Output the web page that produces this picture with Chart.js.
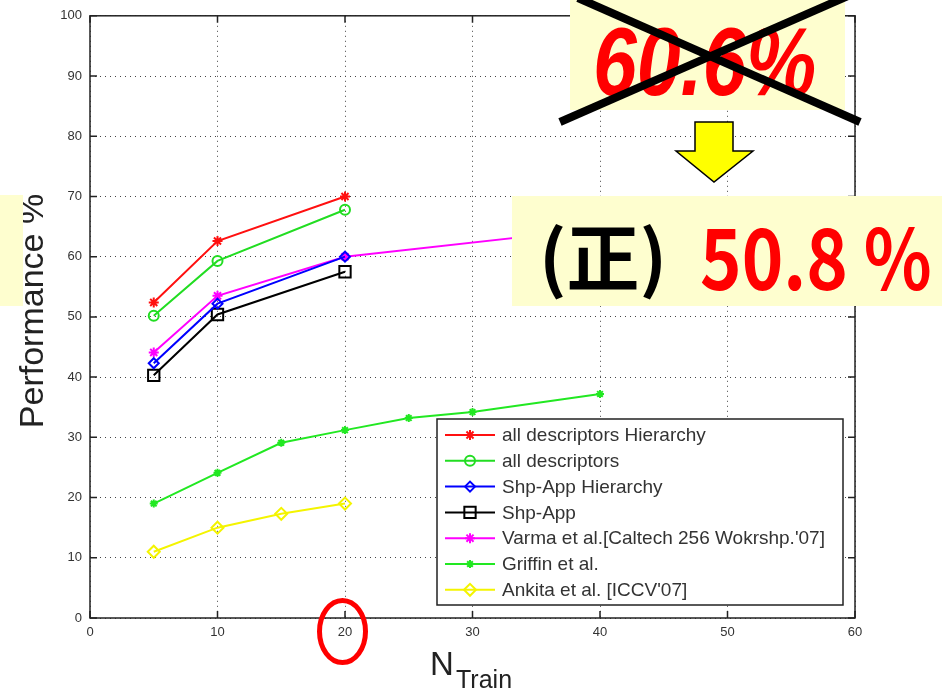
<!DOCTYPE html>
<html>
<head>
<meta charset="utf-8">
<script src="https://cdn.jsdelivr.net/npm/chart.js@4.4.1/dist/chart.umd.min.js"></script>
<style>
  body { margin: 0; background: #fff; }
  #wrap { position: relative; width: 942px; height: 692px; overflow: hidden; }
  #myChart { position: absolute; left: 0; top: 0; }
  .note { position: absolute; background: #fefecf; }
  #yTitle { position: absolute; left: 31px; top: 311px; transform: translate(-50%, -50%) rotate(-90deg);
    font: 34px "Liberation Sans", Arial, sans-serif; color: #222; white-space: nowrap; }
  .xt { position: absolute; font-family: "Liberation Sans", Arial, sans-serif; color: #222; line-height: 1; white-space: nowrap; }
  #oldVal { position: absolute; left: 23px; top: 14px; font: italic bold 96px/96px "Liberation Sans", Arial, sans-serif;
    color: #ff0000; transform: scaleX(0.82); transform-origin: left top; white-space: nowrap; }
  #kanji { position: absolute; left: 27px; top: 21px; font: bold 73px/73px "Noto Sans CJK JP", sans-serif; color: #000; white-space: nowrap; }
  #newVal { position: absolute; left: 188px; top: 16px; font: bold 84px/84px "Noto Sans CJK JP", sans-serif; color: #ff0000;
    transform: scaleX(0.84); transform-origin: left top; white-space: nowrap; }
  svg { position: absolute; left: 0; top: 0; }
</style>
</head>
<body>
<div id="wrap">
  <canvas id="myChart" width="942" height="692"></canvas>
  <div id="yTitle">Performance %</div>
  <div class="xt" style="left:430px; top:647px; font-size:33px;">N</div>
  <div class="xt" style="left:456px; top:667px; font-size:25px;">Train</div>
  <div class="note" style="left:0; top:195px; width:23px; height:111px;"></div>
  <div class="note" style="left:570px; top:0; width:275px; height:110px;"><span id="oldVal">60.6%</span></div>
  <svg width="942" height="692">
    <line x1="560" y1="122" x2="848" y2="-4" stroke="#000" stroke-width="8"/>
    <line x1="578" y1="-2" x2="860" y2="122" stroke="#000" stroke-width="8"/>
    <polygon points="695,122 733,122 733,151 753,151 714,182 676,151 695,151" fill="#ffff00" stroke="#000" stroke-width="1.5"/>
    <ellipse cx="342.5" cy="631.5" rx="23" ry="31" fill="none" stroke="#ff0000" stroke-width="5"/>
  </svg>
  <div class="note" style="left:512px; top:196px; width:430px; height:110px;">
    <span id="kanji">(正)</span><span id="newVal">50.8 %</span>
  </div>
</div>
<script>
// values (N_train -> performance %)
const nTrainShort = [5, 10, 20];
const allDescHier = [52.4, 62.6, 70.0];
const allDesc = [50.2, 59.3, 67.8];
const shpAppHier = [42.3, 52.2, 60.0];
const shpApp = [40.3, 50.4, 57.5];
const varmaX = [5, 10, 20, 40];
const varma = [44.1, 53.5, 60.0, 64.7];
const griffinX = [5, 10, 15, 20, 25, 30, 40];
const griffin = [19.0, 24.1, 29.1, 31.2, 33.2, 34.2, 37.2];
const ankitaX = [5, 10, 15, 20];
const ankita = [11.0, 15.0, 17.3, 19.0];
const xTicks = [0, 10, 20, 30, 40, 50, 60];
const yTicks = [0, 10, 20, 30, 40, 50, 60, 70, 80, 90, 100];

const pts = (xs, ys) => xs.map((x, i) => ({x: x, y: ys[i]}));

const series = (label, xs, ys, color, style, radius, fill) => ({
  label: label,
  data: pts(xs, ys),
  borderColor: color,
  borderWidth: 2,
  pointStyle: style,
  pointRadius: radius,
  pointBorderWidth: 2,
  pointBorderColor: color,
  pointBackgroundColor: fill || 'transparent',
  tension: 0
});

const datasets = [
  series('all descriptors Hierarchy', nTrainShort, allDescHier, '#ff1010', 'star', 5),
  series('all descriptors', nTrainShort, allDesc, '#22dd22', 'circle', 5),
  series('Shp-App Hierarchy', nTrainShort, shpAppHier, '#0000ff', 'rectRot', 5),
  series('Shp-App', nTrainShort, shpApp, '#000000', 'rect', 8),
  series('Varma et al.[Caltech 256 Wokrshp.\'07]', varmaX, varma, '#ff00ff', 'star', 5),
  series('Griffin et al.', griffinX, griffin, '#22e822', 'star', 4),
  series('Ankita et al. [ICCV\'07]', ankitaX, ankita, '#f4f400', 'rectRot', 6)
];

// matlab-like box with inward ticks
const axesBox = {
  id: 'axesBox',
  afterDatasetsDraw(chart) {
    const {ctx, chartArea: a, scales} = chart;
    ctx.save();
    ctx.strokeStyle = '#222';
    ctx.lineWidth = 1.5;
    ctx.strokeRect(a.left, a.top, a.right - a.left, a.bottom - a.top);
    ctx.beginPath();
    xTicks.forEach(v => {
      const x = scales.x.getPixelForValue(v);
      ctx.moveTo(x, a.bottom); ctx.lineTo(x, a.bottom - 7);
      ctx.moveTo(x, a.top); ctx.lineTo(x, a.top + 7);
    });
    yTicks.forEach(v => {
      const y = scales.y.getPixelForValue(v);
      ctx.moveTo(a.left, y); ctx.lineTo(a.left + 7, y);
      ctx.moveTo(a.right, y); ctx.lineTo(a.right - 7, y);
    });
    ctx.stroke();
    ctx.restore();
  }
};

// legend box inside the axes, lower right
const boxLegend = {
  id: 'boxLegend',
  afterDraw(chart) {
    const {ctx, chartArea: a} = chart;
    const left = a.right - 418, top = a.bottom - 199, w = 406, h = 186;
    ctx.save();
    ctx.fillStyle = '#fff';
    ctx.fillRect(left, top, w, h);
    ctx.strokeStyle = '#222';
    ctx.lineWidth = 1.5;
    ctx.strokeRect(left, top, w, h);
    chart.data.datasets.forEach((ds, i) => {
      const y = top + 16 + i * 25.8;
      ctx.strokeStyle = ds.borderColor;
      ctx.lineWidth = 2;
      ctx.beginPath();
      ctx.moveTo(left + 8, y); ctx.lineTo(left + 58, y);
      ctx.stroke();
      ctx.fillStyle = ds.pointBackgroundColor;
      ctx.lineWidth = 2;
      Chart.helpers.drawPoint(ctx, {pointStyle: ds.pointStyle, radius: ds.pointRadius, borderWidth: 2, rotation: 0}, left + 33, y);
      ctx.fillStyle = '#333';
      ctx.font = '19px "Liberation Sans", Arial, sans-serif';
      ctx.textBaseline = 'middle';
      ctx.fillText(ds.label, left + 65, y + 1);
    });
    ctx.restore();
  }
};

const chart = new Chart(document.getElementById('myChart'), {
  type: 'line',
  data: {datasets: datasets},
  options: {
    responsive: false,
    animation: false,
    layout: {padding: {left: 0, right: 87, top: 10, bottom: 0}},
    plugins: {legend: {display: false}, tooltip: {enabled: false}},
    scales: {
      x: {
        type: 'linear', min: 0, max: 60,
        afterFit: s => { s.height = 74; },
        afterBuildTicks: s => { s.ticks = xTicks.map(v => ({value: v})); },
        ticks: {padding: 7, color: '#333', font: {family: '"Liberation Sans", Arial', size: 13}},
        grid: {color: '#444', lineWidth: 1, drawTicks: false},
        border: {display: false, dash: [1, 4]}
      },
      y: {
        min: 0, max: 100,
        afterFit: s => { s.width = 90; },
        afterBuildTicks: s => { s.ticks = yTicks.map(v => ({value: v})); },
        ticks: {padding: 8, color: '#333', font: {family: '"Liberation Sans", Arial', size: 13}},
        grid: {color: '#444', lineWidth: 1, drawTicks: false},
        border: {display: false, dash: [1, 4]}
      }
    }
  },
  plugins: [axesBox, boxLegend]
});
</script>
</body>
</html>
